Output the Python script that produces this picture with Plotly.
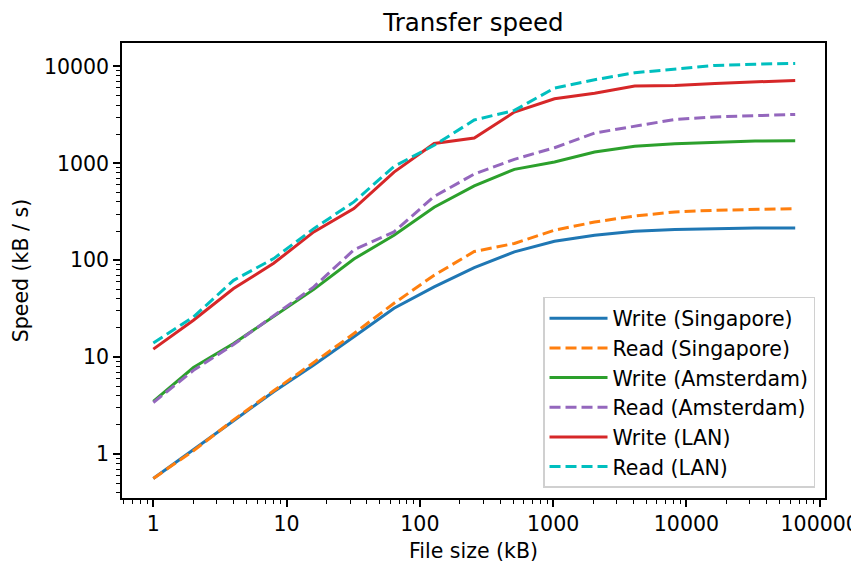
import plotly.graph_objects as go

file_size_kb = [1, 2, 4, 8, 16, 32, 64, 128, 256, 512, 1024, 2048, 4096, 8192, 16384, 32768, 65536]

write_singapore = [0.56, 1.1, 2.2, 4.4, 8.3, 16.2, 32, 53, 84, 122, 157, 181, 199, 207, 212, 215, 215]
read_singapore = [0.56, 1.08, 2.25, 4.5, 8.8, 17.5, 36, 70, 123, 149, 204, 248, 286, 315, 328, 335, 341]
write_amsterdam = [3.5, 7.8, 13.8, 26, 50, 103, 181, 352, 585, 867, 1033, 1310, 1497, 1595, 1660, 1700, 1714]
read_amsterdam = [3.4, 7.3, 13.5, 27, 53, 128, 196, 455, 775, 1100, 1450, 2055, 2427, 2840, 3010, 3110, 3200]
write_lan = [12.1, 24, 51, 93, 196, 341, 813, 1600, 1824, 3380, 4640, 5300, 6270, 6370, 6680, 6950, 7180]
read_lan = [14, 26, 62, 104, 212, 400, 930, 1535, 2800, 3520, 5980, 7300, 8610, 9460, 10240, 10560, 10730]

series = [
    ("Write (Singapore)", write_singapore, "#1f77b4", "solid"),
    ("Read (Singapore)", read_singapore, "#ff7f0e", "11px,5px"),
    ("Write (Amsterdam)", write_amsterdam, "#2ca02c", "solid"),
    ("Read (Amsterdam)", read_amsterdam, "#9467bd", "11px,5px"),
    ("Write (LAN)", write_lan, "#d62728", "solid"),
    ("Read (LAN)", read_lan, "#00bfbf", "11px,5px"),
]

x_ticks = [1, 10, 100, 1000, 10000, 100000]
y_ticks = [1, 10, 100, 1000, 10000]

fig = go.Figure()
for name, vals, color, dash in series:
    fig.add_trace(go.Scatter(x=file_size_kb, y=vals, mode="lines", name=name,
                             line=dict(color=color, width=3, dash=dash)))

font = "DejaVu Sans"
axis_common = dict(
    type="log", showgrid=False, zeroline=False, automargin=False,
    showline=True, linecolor="black", linewidth=1.6, mirror=True,
    ticks="outside", ticklen=7, tickwidth=1.6, tickcolor="black",
    tickfont=dict(family=font, size=20.5, color="black"),
    minor=dict(ticks="outside", ticklen=4, tickwidth=1.2, tickcolor="black", dtick="D1", showgrid=False),
)

fig.update_layout(
    template="none",
    width=851, height=557,
    margin=dict(l=114, r=34, t=34.5, b=67, pad=0),
    paper_bgcolor="white", plot_bgcolor="white",
    title=dict(text="Transfer speed", xref="paper", x=0.5, xanchor="center",
               yref="container", y=1 - 14 / 557, yanchor="middle",
               font=dict(family=font, size=24.5, color="black")),
    xaxis=dict(axis_common, range=[-0.235, 5.04], tickvals=x_ticks,
               ticktext=[str(v) for v in x_ticks],
               title=dict(text="File size (kB)", font=dict(family=font, size=20.5, color="black"), standoff=8)),
    yaxis=dict(axis_common, range=[-0.454, 4.242], tickvals=y_ticks,
               ticktext=[str(v) for v in y_ticks],
               title=dict(text="Speed (kB / s)", font=dict(family=font, size=20.5, color="black"), standoff=10)),
    legend=dict(x=0.9858, y=0.022, xanchor="right", yanchor="bottom",
                bgcolor="rgba(255,255,255,0.8)", bordercolor="#d0d0d0", borderwidth=1.5,
                font=dict(family=font, size=20.5, color="black"), tracegroupgap=0,
                itemwidth=58),
    showlegend=True,
)

fig.write_html("out.html")
